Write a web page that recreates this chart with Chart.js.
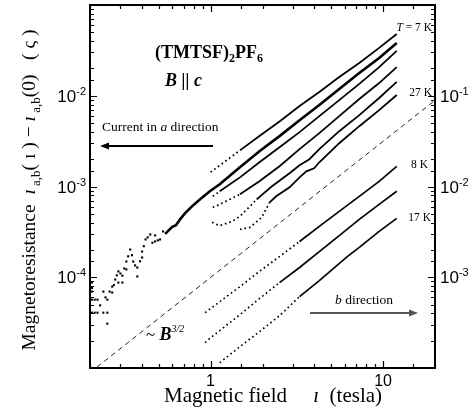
<!DOCTYPE html>
<html lang="en">
  <head>
    <meta charset="UTF-8" />
    <title>Magnetoresistance</title>
    <style>
      body {
        margin: 0;
        background: #fff;
      }
    </style>
  </head>
  <body>
    <canvas id="mrChart" width="473" height="413"></canvas>

    <script src="https://cdn.jsdelivr.net/npm/chart.js"></script>

    <script>
      // current in a direction (left axis)
      const fieldT7 = [1.0, 1.13, 1.48, 1.92, 2.51, 3.28, 4.27, 5.57, 7.28, 9.49, 12.0];
      const resT7 = [1.44e-3, 1.71e-3, 2.5e-3, 3.6e-3, 5.2e-3, 7.7e-3, 1.1e-2, 1.61e-2, 2.3e-2, 3.37e-2, 4.8e-2];

      const fieldA2 = [0.545, 0.6, 0.63, 0.665, 0.71, 0.78, 0.87, 0.99, 1.13, 1.48, 1.92, 2.51, 3.28, 4.27, 5.57, 7.28, 9.49, 12.0];
      const resA2 = [3.0e-4, 3.6e-4, 3.75e-4, 4.34e-4, 5.06e-4, 6.04e-4, 7.22e-4, 8.85e-4, 1.06e-3, 1.63e-3, 2.45e-3, 3.59e-3, 5.38e-3, 7.89e-3, 1.19e-2, 1.78e-2, 2.61e-2, 3.82e-2];

      const lowFieldB = [0.205, 0.205, 0.205, 0.205, 0.205, 0.213, 0.213, 0.221, 0.221, 0.229, 0.239, 0.239, 0.246, 0.252, 0.252, 0.252, 0.26, 0.269, 0.269, 0.275, 0.28, 0.286, 0.292, 0.292, 0.3, 0.308, 0.308, 0.316, 0.325, 0.325, 0.333, 0.342, 0.35, 0.356, 0.365, 0.376, 0.376, 0.39, 0.401, 0.401, 0.41, 0.42, 0.432, 0.447, 0.46, 0.477, 0.477, 0.495, 0.51, 0.53];
      const lowFieldR = [8.74e-5, 7.6e-5, 6.95e-5, 5.66e-5, 4.07e-5, 5.66e-5, 4.07e-5, 5.66e-5, 4.07e-5, 4.9e-5, 6.95e-5, 4.07e-5, 6.0e-5, 5.66e-5, 4.07e-5, 3.08e-5, 6.95e-5, 7.89e-5, 6.78e-5, 8.2e-5, 9.44e-5, 1.05e-4, 1.16e-4, 8.74e-5, 1.1e-4, 1.04e-4, 8.74e-5, 1.25e-4, 1.49e-4, 1.22e-4, 1.7e-4, 2.02e-4, 1.75e-4, 1.49e-4, 1.35e-4, 1.28e-4, 1.02e-4, 1.5e-4, 1.92e-4, 1.65e-4, 2.2e-4, 2.61e-4, 2.75e-4, 2.96e-4, 2.4e-4, 2.48e-4, 2.89e-4, 2.55e-4, 2.61e-4, 3.2e-4];

      const fieldA3 = [1.03, 1.13, 1.48, 1.92, 2.51, 3.28, 4.27, 5.57, 7.28, 9.49, 12.0];
      const resA3 = [7.8e-4, 8.85e-4, 1.26e-3, 1.85e-3, 2.71e-3, 3.97e-3, 5.97e-3, 8.96e-3, 1.35e-2, 2.07e-2, 3.12e-2];

      const fieldA4 = [1.03, 1.13, 1.48, 1.92, 2.51, 3.28, 4.27, 5.57, 7.28, 9.49, 12.0];
      const resA4 = [5.89e-4, 6.35e-4, 8.2e-4, 1.14e-3, 1.67e-3, 2.58e-3, 3.87e-3, 5.97e-3, 9.2e-3, 1.38e-2, 2.07e-2];

      const fieldA5 = [1.02, 1.13, 1.33, 1.48, 1.69, 1.85, 2.26, 2.87, 3.28, 3.74, 4.27, 5.57, 7.28, 9.49, 12.0];
      const resA5 = [4.02e-4, 3.7e-4, 4.12e-4, 4.69e-4, 6.04e-4, 7.22e-4, 1.0e-3, 1.4e-3, 1.71e-3, 2.0e-3, 2.58e-3, 4.07e-3, 6.12e-3, 9.44e-3, 1.42e-2];

      const fieldT27 = [1.48, 1.69, 1.98, 2.2, 2.4, 2.87, 3.28, 3.59, 3.98, 4.27, 5.57, 7.28, 9.49, 12.0];
      const resT27 = [3.36e-4, 3.54e-4, 4.57e-4, 6.69e-4, 7.8e-4, 9.8e-4, 1.26e-3, 1.47e-3, 1.59e-3, 1.85e-3, 3.0e-3, 4.62e-3, 6.95e-3, 1.02e-2];

      // current in b direction (right axis)
      const fieldB8 = [0.93, 1.0, 1.13, 1.48, 1.92, 2.51, 3.28, 4.27, 5.57, 7.28, 9.49, 12.0];
      const resB8 = [4.07e-4, 4.51e-4, 5.38e-4, 7.88e-4, 1.16e-3, 1.69e-3, 2.48e-3, 3.63e-3, 5.32e-3, 7.79e-3, 1.14e-2, 1.67e-2];

      const fieldBmid = [0.93, 1.0, 1.13, 1.48, 1.92, 2.51, 3.28, 4.27, 5.57, 7.28, 9.49, 12.0];
      const resBmid = [1.9e-4, 2.16e-4, 2.58e-4, 3.87e-4, 5.82e-4, 8.73e-4, 1.28e-3, 1.92e-3, 2.88e-3, 4.35e-3, 6.36e-3, 8.86e-3];

      const fieldB17 = [1.13, 1.48, 1.92, 2.51, 3.28, 4.27, 6.2, 7.28, 9.49, 12.0];
      const resB17 = [1.14e-4, 1.72e-4, 2.51e-4, 3.77e-4, 6.12e-4, 9.2e-4, 1.69e-3, 2.13e-3, 3.2e-3, 4.45e-3];

      // ~B^3/2 guide
      const guideB = [0.2, 20];
      const guideR = [8.9e-6, 8.9e-3];

      const xTickLabels = ["1", "10"];
      const yTickExps = ["-2", "-3", "-4"];
      const y2TickExps = ["-1", "-2", "-3"];

      const serif = '"Liberation Serif", "Times New Roman", serif';
      const sans = '"Liberation Sans", Arial, sans-serif';

      function pts(xs, ys) {
        return xs.map((x, i) => ({ x: x, y: ys[i] }));
      }

      // dotted below a given field, solid above
      function curve(xs, ys, axis, width, dottedBelow) {
        return {
          data: pts(xs, ys),
          yAxisID: axis,
          showLine: true,
          borderColor: "#000",
          borderWidth: width,
          pointRadius: 0,
          tension: 0,
          clip: 0,
          segment: {
            borderDash: (c) => (c.p1.parsed.x <= dottedBelow ? [1.6, 3] : undefined),
          },
        };
      }

      function drawRuns(ctx, runs, x, y, align) {
        let total = 0;
        runs.forEach((r) => {
          ctx.font = r.font;
          r.w = ctx.measureText(r.t).width;
          total += r.w;
        });
        let cx = align === "center" ? x - total / 2 : align === "right" ? x - total : x;
        runs.forEach((r) => {
          ctx.font = r.font;
          ctx.fillText(r.t, cx, y + (r.dy || 0));
          cx += r.w;
        });
      }

      function arrow(ctx, x1, x2, y, color) {
        const dir = x2 > x1 ? 1 : -1;
        ctx.save();
        ctx.strokeStyle = color;
        ctx.fillStyle = color;
        ctx.lineWidth = 2;
        ctx.beginPath();
        ctx.moveTo(x1, y);
        ctx.lineTo(x2 - dir * 6, y);
        ctx.stroke();
        ctx.beginPath();
        ctx.moveTo(x2, y);
        ctx.lineTo(x2 - dir * 9, y - 3.5);
        ctx.lineTo(x2 - dir * 9, y + 3.5);
        ctx.closePath();
        ctx.fill();
        ctx.restore();
      }

      const isDecade = (v) => Math.abs(Math.log10(v) - Math.round(Math.log10(v))) < 1e-6;

      const framePlugin = {
        id: "frame",
        afterDraw(chart) {
          const { ctx, chartArea: a, scales } = chart;
          ctx.save();
          ctx.strokeStyle = "#000";
          ctx.fillStyle = "#000";

          // ticks, all pointing inwards
          ctx.lineWidth = 1.2;
          ctx.beginPath();
          scales.x.ticks.forEach((t) => {
            const px = Math.round(scales.x.getPixelForValue(t.value)) + 0.5;
            const len = isDecade(t.value) ? 7 : 4;
            ctx.moveTo(px, a.bottom);
            ctx.lineTo(px, a.bottom - len);
            ctx.moveTo(px, a.top);
            ctx.lineTo(px, a.top + len);
          });
          scales.y.ticks.forEach((t) => {
            const py = Math.round(scales.y.getPixelForValue(t.value)) + 0.5;
            ctx.moveTo(a.left, py);
            ctx.lineTo(a.left + (isDecade(t.value) ? 7 : 4), py);
          });
          scales.y2.ticks.forEach((t) => {
            const py = Math.round(scales.y2.getPixelForValue(t.value)) + 0.5;
            ctx.moveTo(a.right, py);
            ctx.lineTo(a.right - (isDecade(t.value) ? 7 : 4), py);
          });
          ctx.stroke();

          ctx.lineWidth = 2;
          ctx.strokeRect(a.left, a.top, a.right - a.left, a.bottom - a.top);

          // tick labels
          ctx.textBaseline = "alphabetic";
          ctx.textAlign = "center";
          ctx.font = "16px " + sans;
          [1, 10].forEach((v, i) => {
            ctx.fillText(xTickLabels[i], scales.x.getPixelForValue(v), a.bottom + 18);
          });
          ctx.textAlign = "left";
          [1e-2, 1e-3, 1e-4].forEach((v, i) => {
            const py = scales.y.getPixelForValue(v);
            drawRuns(ctx, [
              { t: "10", font: "17px " + sans },
              { t: yTickExps[i], font: "11px " + sans, dy: -7 },
            ], a.left - 4, py + 6, "right");
          });
          [1e-1, 1e-2, 1e-3].forEach((v, i) => {
            const py = scales.y2.getPixelForValue(v);
            drawRuns(ctx, [
              { t: "10", font: "17px " + sans },
              { t: y2TickExps[i], font: "11px " + sans, dy: -7 },
            ], a.right + 5, py + 6, "left");
          });

          // axis titles
          drawRuns(ctx, [
            { t: "Magnetic field     ", font: "21px " + serif },
            { t: "ı", font: "italic 21px " + serif },
            { t: "  (tesla)", font: "21px " + serif },
          ], 273, a.bottom + 34, "center");

          ctx.save();
          ctx.translate(35, 190);
          ctx.rotate(-Math.PI / 2);
          drawRuns(ctx, [
            { t: "Magnetoresistance  ", font: "19.5px " + serif },
            { t: "ı", font: "italic 19.5px " + serif },
            { t: " a,b", font: "13px " + serif, dy: 5 },
            { t: "( ı ) − ", font: "19.5px " + serif },
            { t: "ı", font: "italic 19.5px " + serif },
            { t: " a,b", font: "13px " + serif, dy: 5 },
            { t: "(0)   ( ς )", font: "19.5px " + serif },
          ], 0, 0, "center");
          ctx.restore();

          // annotations
          drawRuns(ctx, [
            { t: "(TMTSF)", font: "bold 18px " + serif },
            { t: "2", font: "bold 12px " + serif, dy: 4 },
            { t: "PF", font: "bold 18px " + serif },
            { t: "6", font: "bold 12px " + serif, dy: 4 },
          ], 155, 58, "left");
          drawRuns(ctx, [{ t: "B || c", font: "bold italic 18px " + serif }], 165, 86, "left");
          drawRuns(ctx, [
            { t: "Current in ", font: "13.5px " + serif },
            { t: "a", font: "italic 13.5px " + serif },
            { t: " direction", font: "13.5px " + serif },
          ], 102, 131, "left");
          arrow(ctx, 213, 100, 146, "#000");

          drawRuns(ctx, [
            { t: "b", font: "italic 13.5px " + serif },
            { t: " direction", font: "13.5px " + serif },
          ], 335, 304, "left");
          arrow(ctx, 310, 418, 313, "#555");

          drawRuns(ctx, [
            { t: "~ ", font: "17px " + serif },
            { t: "B", font: "bold italic 18px " + serif },
            { t: "3/2", font: "italic 10px " + serif, dy: -8 },
          ], 146, 340, "left");

          drawRuns(ctx, [
            { t: "T", font: "italic 11.5px " + serif },
            { t: " = 7 K", font: "11.5px " + serif },
          ], 432, 31, "right");
          drawRuns(ctx, [{ t: "27 K", font: "11.5px " + serif }], 432, 96, "right");
          drawRuns(ctx, [{ t: "8 K", font: "11.5px " + serif }], 428, 168, "right");
          drawRuns(ctx, [{ t: "17 K", font: "11.5px " + serif }], 431, 221, "right");

          ctx.restore();
        },
      };

      const noAxis = (isX) => ({
        type: "logarithmic",
        ticks: { display: false },
        grid: { display: false, drawTicks: false },
        border: { display: false },
        afterFit(s) {
          if (isX) s.height = 0;
          else s.width = 0;
        },
      });

      const ctx = document.getElementById("mrChart").getContext("2d");

      const mrChart = new Chart(ctx, {
        type: "scatter",
        data: {
          datasets: [
            {
              data: pts(guideB, guideR),
              yAxisID: "y",
              showLine: true,
              borderColor: "#222",
              borderWidth: 1,
              borderDash: [5, 4],
              pointRadius: 0,
              clip: 0,
            },
            {
              data: pts(lowFieldB, lowFieldR),
              yAxisID: "y",
              showLine: false,
              pointStyle: "rect",
              pointRadius: 1.5,
              backgroundColor: "#000",
              borderWidth: 0,
              clip: 0,
            },
            curve(fieldT7, resT7, "y", 1.8, 1.6),
            curve(fieldA2, resA2, "y", 2.6, 0),
            curve(fieldA3, resA3, "y", 1.8, 1.4),
            curve(fieldA4, resA4, "y", 1.8, 1.5),
            curve(fieldA5, resA5, "y", 1.8, 1.9),
            curve(fieldT27, resT27, "y", 1.8, 2.3),
            curve(fieldB8, resB8, "y2", 1.7, 3.3),
            curve(fieldBmid, resBmid, "y2", 1.7, 2.9),
            curve(fieldB17, resB17, "y2", 1.7, 3.6),
          ],
        },
        options: {
          responsive: false,
          animation: false,
          devicePixelRatio: 1,
          layout: { padding: { left: 90, right: 38, top: 5, bottom: 45 } },
          plugins: {
            legend: { display: false },
            tooltip: { enabled: false },
          },
          scales: {
            x: Object.assign(noAxis(true), { position: "bottom", min: 0.2, max: 20 }),
            y: Object.assign(noAxis(false), { position: "left", min: 1e-5, max: 1e-1 }),
            y2: Object.assign(noAxis(false), { position: "right", min: 1e-4, max: 1 }),
          },
        },
        plugins: [framePlugin],
      });
    </script>
  </body>
</html>
